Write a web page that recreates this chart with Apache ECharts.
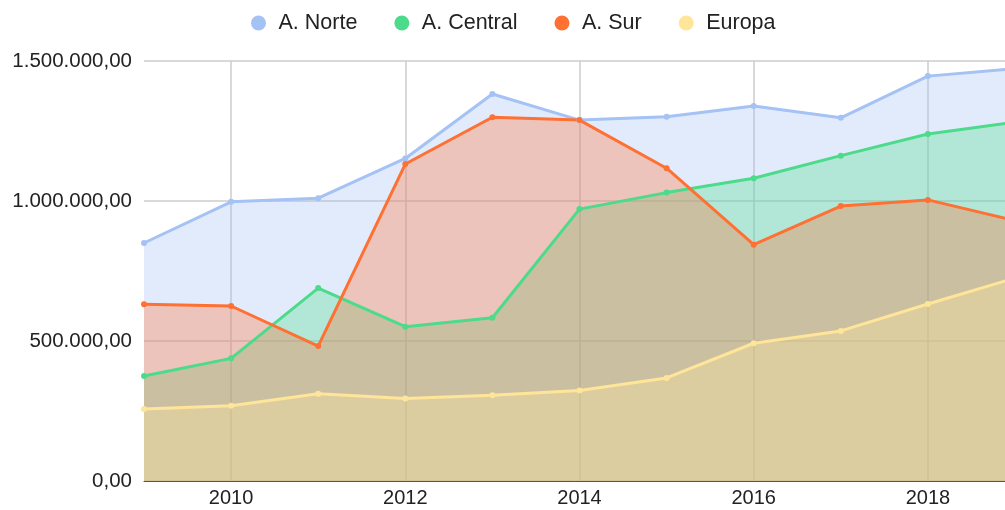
<!DOCTYPE html>
<html>
<head>
<meta charset="utf-8">
<script src="https://cdn.jsdelivr.net/npm/echarts@6/dist/echarts.min.js"></script>
<style>
  html, body { margin: 0; padding: 0; background: #fff; }
  #myChart { width: 1005px; height: 510px; }
</style>
</head>
<body>
<div id="myChart"></div>
<script>
// data
var years = ['2009', '2010', '2011', '2012', '2013', '2014', '2015', '2016', '2017', '2018', '2019']
var norte = [850000, 997000, 1010000, 1152000, 1382000, 1289000, 1301000, 1339000, 1297000, 1446000, 1473000]
var central = [375000, 438000, 689000, 551000, 583000, 971000, 1030000, 1081000, 1162000, 1239000, 1282000]
var sur = [631000, 625000, 482000, 1132000, 1299000, 1289000, 1117000, 844000, 982000, 1004000, 930000]
var europa = [257000, 269000, 312000, 295000, 306000, 323000, 368000, 492000, 536000, 632000, 725000]

var colors = ['#a4c2f4', '#4cdb8a', '#ff7033', '#ffe599']
var fontFamily = '"Liberation Sans", Arial, sans-serif'

// 1500000 -> 1.500.000,00
function fmtEs(v) {
  var s = String(Math.round(v))
  s = s.replace(/\B(?=(\d{3})+(?!\d))/g, '.')
  return s + ',00'
}

function makeSeries(name, data, color) {
  return {
    name: name,
    type: 'line',
    data: data,
    symbol: 'circle',
    symbolSize: 6,
    lineStyle: { width: 3, color: color },
    itemStyle: { color: color },
    areaStyle: { color: color, opacity: 0.32 }
  }
}

var myChart = echarts.init(document.getElementById('myChart'))
myChart.setOption({
  color: colors,
  animation: false,
  textStyle: { fontFamily: fontFamily },
  legend: {
    top: 7,
    left: 246,
    icon: 'circle',
    itemWidth: 16,
    itemHeight: 15,
    itemGap: 37,
    textStyle: { fontSize: 21.5, color: '#222', padding: [0, 0, 0, 7], fontFamily: fontFamily },
    data: ['A. Norte', 'A. Central', 'A. Sur', 'Europa']
  },
  grid: {
    left: 144,
    width: 871,
    top: 61,
    bottom: 29,
    outerBoundsMode: 'none',
    containLabel: false
  },
  xAxis: {
    type: 'category',
    data: years,
    boundaryGap: false,
    axisLine: { lineStyle: { color: '#555', width: 1 } },
    axisTick: { show: false },
    axisLabel: {
      interval: function(index) { return index % 2 === 1 },
      fontSize: 20,
      color: '#222',
      margin: 7,
      fontFamily: fontFamily
    },
    splitLine: {
      show: true,
      interval: function(index) { return index % 2 === 1 },
      lineStyle: { color: '#cccccc', width: 1.5 }
    }
  },
  yAxis: {
    type: 'value',
    min: 0,
    max: 1500000,
    interval: 500000,
    axisLine: { show: false },
    axisTick: { show: false },
    axisLabel: {
      formatter: fmtEs,
      fontSize: 20.5,
      color: '#222',
      margin: 12,
      fontFamily: fontFamily
    },
    splitLine: { lineStyle: { color: '#cccccc', width: 1.5 } }
  },
  series: [
    makeSeries('A. Norte', norte, colors[0]),
    makeSeries('A. Central', central, colors[1]),
    makeSeries('A. Sur', sur, colors[2]),
    makeSeries('Europa', europa, colors[3])
  ]
})
</script>
</body>
</html>
